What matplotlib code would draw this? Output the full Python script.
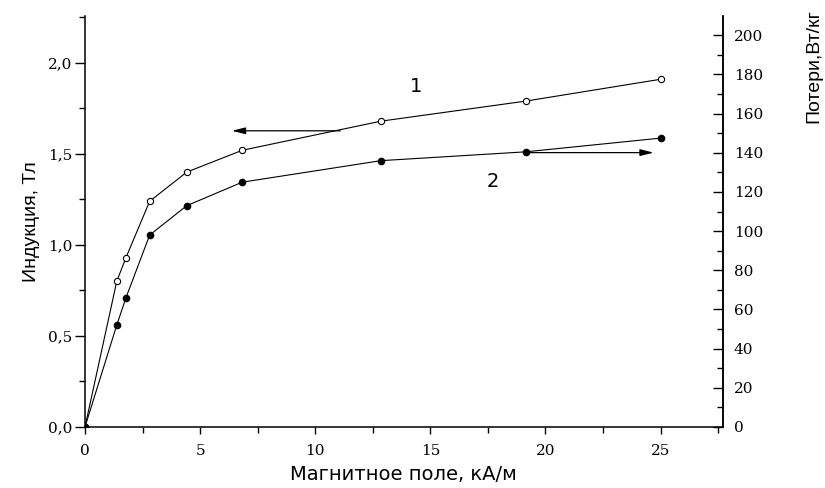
import matplotlib
matplotlib.use("Agg")
import matplotlib.pyplot as plt
from matplotlib.ticker import MultipleLocator, FuncFormatter

# field, kA/m (same for both curves)
field = [0, 1.38, 1.78, 2.81, 4.42, 6.83, 12.86, 19.14, 25.0]
# curve 1: induction, T
induction = [0, 0.80, 0.93, 1.24, 1.40, 1.52, 1.68, 1.79, 1.91]
# curve 2: losses, W/kg
losses = [0, 52, 66, 98, 113, 125, 136, 140.5, 147.5]

serif = "DejaVu Serif"
sans = "Liberation Sans"
wide_sans = "DejaVu Sans"

fig = plt.figure(figsize=(8.25, 4.88), dpi=100)
ax = fig.add_axes([0.103, 0.125, 0.773, 0.842])
ax2 = ax.twinx()

ax.plot(field, induction, color="black", lw=0.8, marker="o", ms=4.5,
        mfc="white", mec="black", mew=0.8)
ax2.plot(field, losses, color="black", lw=0.8, marker="o", ms=4.5,
         mfc="black", mec="black")

ax.set_xlim(0, 27.7)
ax.set_ylim(0, 2.257)
ax2.set_ylim(0, 209.8)

ax.spines["top"].set_visible(False)
ax2.spines["top"].set_visible(False)
ax2.spines["left"].set_visible(False)
ax2.spines["bottom"].set_visible(False)
for a in (ax, ax2):
    for s in a.spines.values():
        s.set_linewidth(1.1)

ax.xaxis.set_major_locator(MultipleLocator(5))
ax.xaxis.set_minor_locator(MultipleLocator(2.5))
ax.yaxis.set_major_locator(MultipleLocator(0.5))
ax.yaxis.set_minor_locator(MultipleLocator(0.25))
ax.yaxis.set_major_formatter(FuncFormatter(lambda v, p: f"{v:.1f}".replace(".", ",")))
ax2.yaxis.set_major_locator(MultipleLocator(20))
ax2.yaxis.set_minor_locator(MultipleLocator(10))

ax.tick_params(axis="x", which="major", direction="out", length=5, width=1, pad=7)
ax.tick_params(axis="x", which="minor", direction="out", length=4, width=1)
ax.tick_params(axis="y", which="major", direction="out", length=7, width=1, pad=2)
ax.tick_params(axis="y", which="minor", direction="out", length=4, width=1)
ax2.tick_params(axis="y", which="major", direction="in", length=7, width=1, pad=8)
ax2.tick_params(axis="y", which="minor", direction="in", length=4, width=1)

for lab in ax.get_xticklabels() + ax.get_yticklabels() + ax2.get_yticklabels():
    lab.set_fontfamily(serif)
    lab.set_fontsize(11)

ax.set_xlabel("Магнитное поле, кА/м", fontfamily=wide_sans, fontsize=14, labelpad=5)
ax.set_ylabel("Индукция, Тл", fontfamily=sans, fontsize=14, labelpad=6)
fig.text(0.987, 0.982, "Потери,Вт/кг", rotation=90, ha="center", va="top",
         fontfamily=sans, fontsize=14)

# arrows pointing to the axis each curve belongs to
ax.annotate("", xy=(6.38, 1.627), xytext=(11.09, 1.627),
            arrowprops=dict(arrowstyle="-|>,head_length=0.8,head_width=0.2",
                            color="black", lw=0.9, shrinkA=0, shrinkB=0))
ax2.annotate("", xy=(24.7, 140.1), xytext=(19.14, 140.1),
             arrowprops=dict(arrowstyle="-|>,head_length=0.8,head_width=0.2",
                             color="black", lw=0.9, shrinkA=0, shrinkB=0))

ax.text(14.4, 1.87, "1", fontfamily=wide_sans, fontsize=14, ha="center", va="center")
ax.text(17.7, 1.35, "2", fontfamily=wide_sans, fontsize=14, ha="center", va="center")

fig.savefig("out.png", dpi=100)
